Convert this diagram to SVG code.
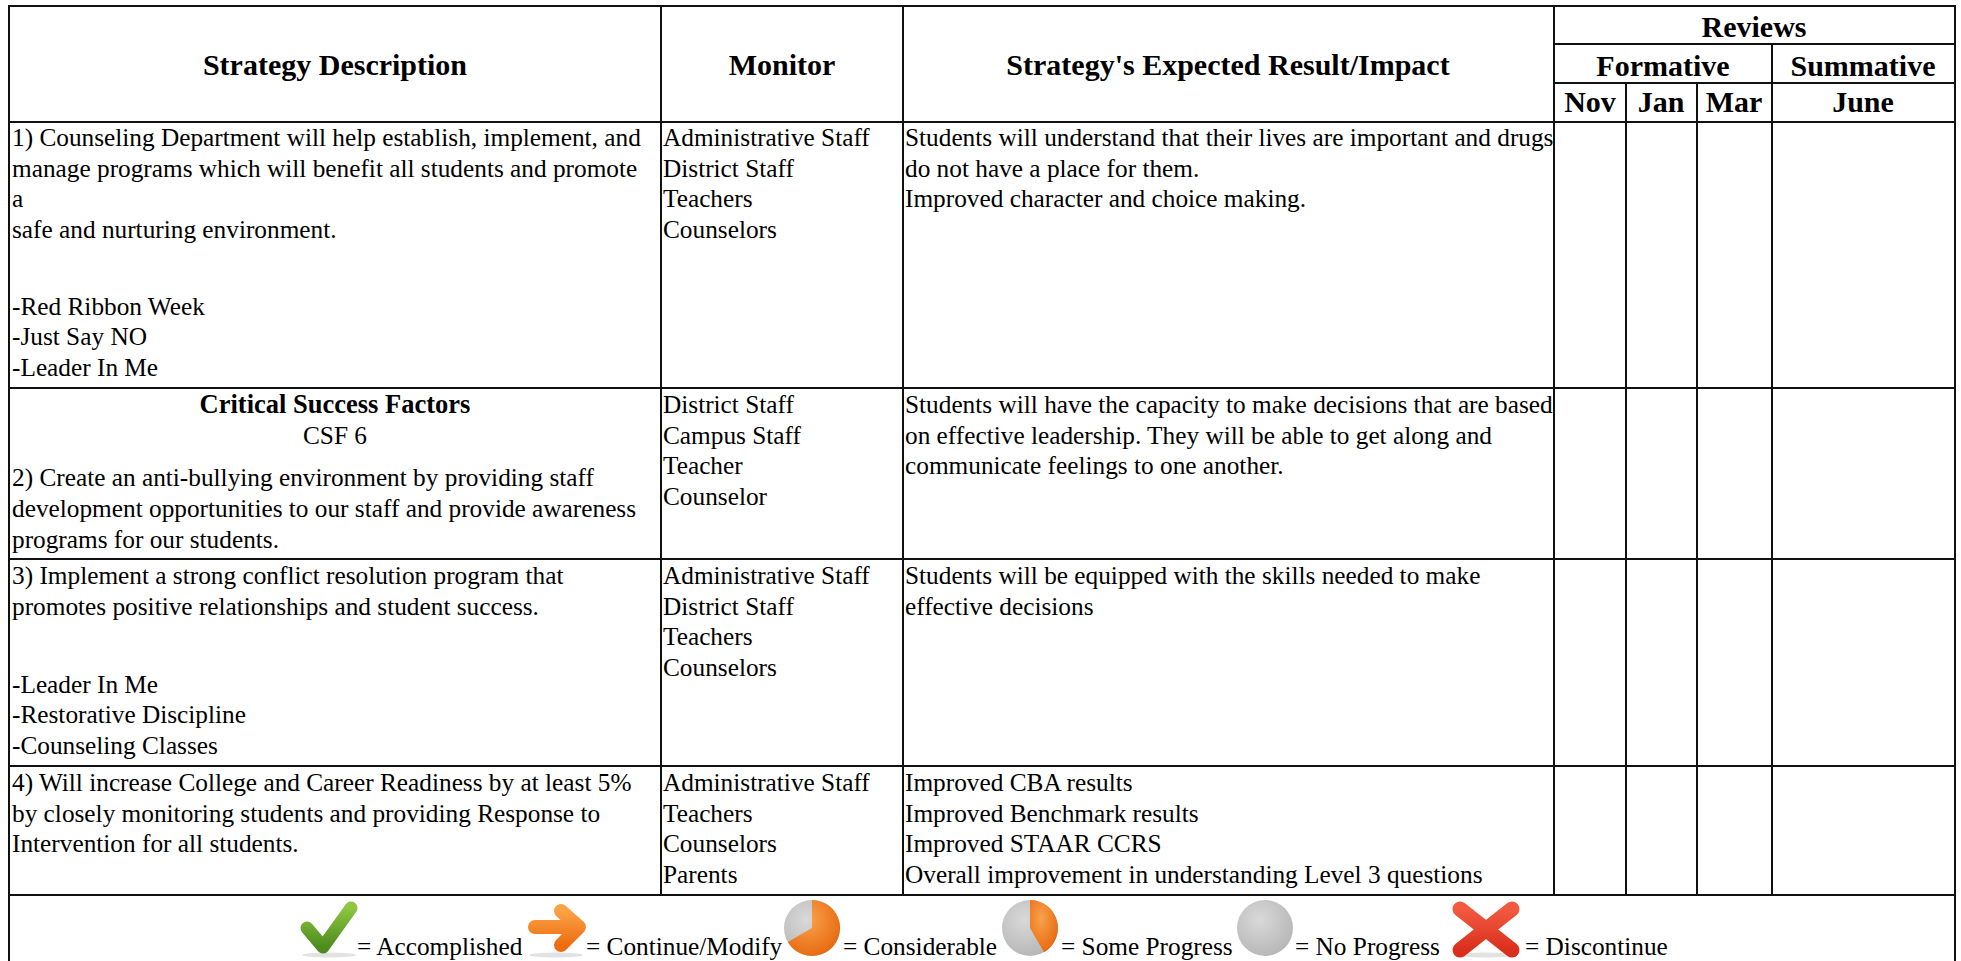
<svg xmlns="http://www.w3.org/2000/svg" width="1961" height="961" viewBox="0 0 1961 961">
<style>
.t{font-family:"Liberation Serif","Times New Roman",serif;font-size:25.3px;fill:#000}
.b{font-weight:bold;font-size:26.5px}
.h{font-family:"Liberation Serif","Times New Roman",serif;font-size:30px;font-weight:bold;fill:#000;text-anchor:middle}
.c{text-anchor:middle}
.ln{stroke:#111;stroke-width:2;fill:none}
.sh{fill:#8a8a8a;opacity:.25}
</style>
<defs>
<linearGradient id="gGreen" x1="0" y1="0" x2="0" y2="1"><stop offset="0" stop-color="#8ec641"/><stop offset="1" stop-color="#4d8c1d"/></linearGradient>
<linearGradient id="gOrange" x1="0" y1="0" x2="0" y2="1"><stop offset="0" stop-color="#fba246"/><stop offset="1" stop-color="#ee6d10"/></linearGradient>
<linearGradient id="gRed" x1="0" y1="0" x2="0" y2="1"><stop offset="0" stop-color="#f25a40"/><stop offset="1" stop-color="#d92f1d"/></linearGradient>
<radialGradient id="gGrey" cx="0.4" cy="0.35" r="0.75"><stop offset="0" stop-color="#d9d9d9"/><stop offset="1" stop-color="#b3b3b3"/></radialGradient>
<radialGradient id="gOr" cx="0.4" cy="0.35" r="0.75"><stop offset="0" stop-color="#f9a24c"/><stop offset="1" stop-color="#e5640a"/></radialGradient>
</defs>

<g id="grid" class="ln">
<line x1="9" y1="6" x2="1955" y2="6"/>
<line x1="9" y1="5" x2="9" y2="961"/>
<line x1="1955" y1="5" x2="1955" y2="961"/>
<line x1="661" y1="6" x2="661" y2="895"/>
<line x1="903" y1="6" x2="903" y2="895"/>
<line x1="1554" y1="6" x2="1554" y2="895"/>
<line x1="1554" y1="44" x2="1955" y2="44"/>
<line x1="1554" y1="83" x2="1955" y2="83"/>
<line x1="1626" y1="83" x2="1626" y2="895"/>
<line x1="1697" y1="83" x2="1697" y2="895"/>
<line x1="1772" y1="44" x2="1772" y2="895"/>
<line x1="9" y1="122" x2="1955" y2="122"/>
<line x1="9" y1="388" x2="1955" y2="388"/>
<line x1="9" y1="559" x2="1955" y2="559"/>
<line x1="9" y1="766" x2="1955" y2="766"/>
<line x1="9" y1="895" x2="1955" y2="895"/>
</g>

<g id="header">
<text class="h" x="335" y="75">Strategy Description</text>
<text class="h" x="782" y="75">Monitor</text>
<text class="h" x="1228" y="75">Strategy's Expected Result/Impact</text>
<text class="h" x="1754" y="37">Reviews</text>
<text class="h" x="1663" y="76">Formative</text>
<text class="h" x="1863" y="76">Summative</text>
<text class="h" x="1590" y="112">Nov</text>
<text class="h" x="1661" y="112">Jan</text>
<text class="h" x="1734" y="112">Mar</text>
<text class="h" x="1863" y="112">June</text>
</g>

<g id="row1" class="t">
<text x="12" y="146">1) Counseling Department will help establish, implement, and</text>
<text x="12" y="177">manage programs which will benefit all students and promote</text>
<text x="12" y="207">a</text>
<text x="12" y="238">safe and nurturing environment.</text>
<text x="12" y="315">-Red Ribbon Week</text>
<text x="12" y="345">-Just Say NO</text>
<text x="12" y="376">-Leader In Me</text>
<text x="663" y="146">Administrative Staff</text>
<text x="663" y="177">District Staff</text>
<text x="663" y="207">Teachers</text>
<text x="663" y="238">Counselors</text>
<text x="905" y="146">Students will understand that their lives are important and drugs</text>
<text x="905" y="177">do not have a place for them.</text>
<text x="905" y="207">Improved character and choice making.</text>
</g>

<g id="row2" class="t">
<text class="b c" x="335" y="413">Critical Success Factors</text>
<text class="c" x="335" y="444">CSF 6</text>
<text x="12" y="486">2) Create an anti-bullying environment by providing staff</text>
<text x="12" y="517">development opportunities to our staff and provide awareness</text>
<text x="12" y="548">programs for our students.</text>
<text x="663" y="413">District Staff</text>
<text x="663" y="444">Campus Staff</text>
<text x="663" y="474">Teacher</text>
<text x="663" y="505">Counselor</text>
<text x="905" y="413">Students will have the capacity to make decisions that are based</text>
<text x="905" y="444">on effective leadership. They will be able to get along and</text>
<text x="905" y="474">communicate feelings to one another.</text>
</g>

<g id="row3" class="t">
<text x="12" y="584">3) Implement a strong conflict resolution program that</text>
<text x="12" y="615">promotes positive relationships and student success.</text>
<text x="12" y="693">-Leader In Me</text>
<text x="12" y="723">-Restorative Discipline</text>
<text x="12" y="754">-Counseling Classes</text>
<text x="663" y="584">Administrative Staff</text>
<text x="663" y="615">District Staff</text>
<text x="663" y="645">Teachers</text>
<text x="663" y="676">Counselors</text>
<text x="905" y="584">Students will be equipped with the skills needed to make</text>
<text x="905" y="615">effective decisions</text>
</g>

<g id="row4" class="t">
<text x="12" y="791">4) Will increase College and Career Readiness by at least 5%</text>
<text x="12" y="822">by closely monitoring students and providing Response to</text>
<text x="12" y="852">Intervention for all students.</text>
<text x="663" y="791">Administrative Staff</text>
<text x="663" y="822">Teachers</text>
<text x="663" y="852">Counselors</text>
<text x="663" y="883">Parents</text>
<text x="905" y="791">Improved CBA results</text>
<text x="905" y="822">Improved Benchmark results</text>
<text x="905" y="852">Improved STAAR CCRS</text>
<text x="905" y="883">Overall improvement in understanding Level 3 questions</text>
</g>

<g id="legend">
<g id="icon-accomplished">
<ellipse class="sh" cx="329" cy="955" rx="27" ry="2.5"/>
<path d="M307,928 L323,947 L351,908" fill="none" stroke="url(#gGreen)" stroke-width="13" stroke-linecap="round" stroke-linejoin="round"/>
</g>
<text class="t" x="357" y="955">= Accomplished</text>
<g id="icon-continue">
<ellipse class="sh" cx="556" cy="955" rx="27" ry="2.5"/>
<path d="M535,927 H577 M561,911 L579,927 L561,945" fill="none" stroke="url(#gOrange)" stroke-width="14" stroke-linecap="round" stroke-linejoin="round"/>
</g>
<text class="t" x="586" y="955">= Continue/Modify</text>
<g id="icon-considerable">
<circle cx="812" cy="928" r="28" fill="url(#gGrey)"/>
<path d="M812,928 L812,900 A28,28 0 1 1 787.8,942 Z" fill="url(#gOr)"/>
</g>
<text class="t" x="843" y="955">= Considerable</text>
<g id="icon-some">
<circle cx="1030" cy="928" r="28" fill="url(#gGrey)"/>
<path d="M1030,928 L1030,900 A28,28 0 0 1 1044,952.2 Z" fill="url(#gOr)"/>
</g>
<text class="t" x="1061" y="955">= Some Progress</text>
<g id="icon-none">
<circle cx="1265" cy="928" r="28" fill="url(#gGrey)"/>
</g>
<text class="t" x="1295" y="955">= No Progress</text>
<g id="icon-discontinue">
<ellipse class="sh" cx="1486" cy="955" rx="30" ry="2.5"/>
<path d="M1460,909 L1512,950 M1512,909 L1460,950" fill="none" stroke="url(#gRed)" stroke-width="15" stroke-linecap="round"/>
</g>
<text class="t" x="1525" y="955">= Discontinue</text>
</g>
</svg>
